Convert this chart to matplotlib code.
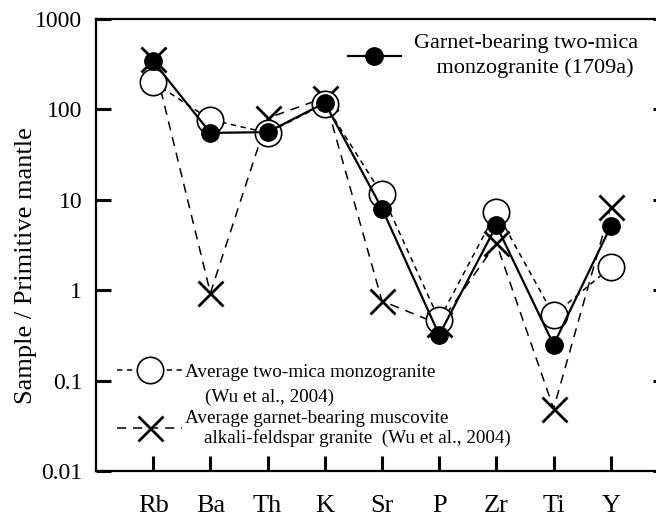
import matplotlib.pyplot as plt
from matplotlib.lines import Line2D

plt.rcParams['font.family'] = ['Liberation Serif', 'DejaVu Serif']

# -----------------------------
# data (normalised to primitive mantle)
# -----------------------------
elements = ["Rb", "Ba", "Th", "K", "Sr", "P", "Zr", "Ti", "Y"]
sample_1709a = [340, 55, 56, 118, 8.0, 0.32, 5.2, 0.25, 5.1]
avg_two_mica = [200, 77, 55, 115, 11.5, 0.47, 7.4, 0.53, 1.8]
avg_grt_musc = [360, 0.93, 80, 135, 0.76, 0.42, 3.3, 0.049, 8.4]

ytick_vals = [0.01, 0.1, 1, 10, 100, 1000]
ytick_labels = ["0.01", "0.1", "1", "10", "100", "1000"]

x = list(range(len(elements)))

fig = plt.figure(figsize=(6.56, 5.16), dpi=100)
# right spine sits just outside the picture, as in the scanned figure
ax = fig.add_axes([96 / 656, 45 / 516, 572 / 656, 452 / 516])

ax.plot(x, avg_grt_musc, color="black", lw=1.1, dashes=(6, 4.5),
        marker="x", ms=18, mew=2.0, zorder=2)
ax.plot(x, avg_two_mica, color="black", lw=1.1, dashes=(3.5, 3),
        marker="o", ms=19, mfc="white", mec="black", mew=1.2, zorder=3)
ax.plot(x, sample_1709a, color="black", lw=1.6, marker="o", ms=12.5,
        mfc="black", mec="black", zorder=4)

ax.set_yscale("log")
ax.set_ylim(0.01, 1000)
ax.set_xlim(-1, 9)
ax.set_yticks(ytick_vals)
ax.set_yticklabels(ytick_labels)
ax.minorticks_off()
ax.set_xticks(x)
ax.set_xticklabels(elements)

ax.tick_params(axis="y", direction="in", length=10.5, width=2.2, labelsize=17,
               pad=10, right=True)
ax.tick_params(axis="x", direction="in", length=10.5, width=2.2, labelsize=19,
               pad=17)
for s in ax.spines.values():
    s.set_linewidth(1.6)

ax.set_ylabel("Sample / Primitive mantle", fontsize=19)
ax.yaxis.set_label_coords(-0.103, 0.4535)

# legends
h1 = Line2D([], [], color="black", lw=1.6, marker="o", ms=12.5, mfc="black")
leg1 = ax.legend([h1], ["Garnet-bearing two-mica\n    monzogranite (1709a)"],
                 loc="upper left", bbox_to_anchor=(0.44, 0.966),
                 frameon=False, fontsize=16, handlelength=2.4,
                 handletextpad=0.6, borderpad=0, borderaxespad=0,
                 labelspacing=0)
leg1.get_texts()[0].set_linespacing(1.35)
ax.add_artist(leg1)

h2 = Line2D([], [], color="black", lw=1.1, dashes=(3.5, 3), marker="o", ms=19,
            mfc="white", mec="black", mew=1.2)
h3 = Line2D([], [], color="black", lw=1.1, dashes=(6, 4.5), marker="x", ms=18,
            mew=2.0)
ax.legend([h2, h3],
          ["Average two-mica monzogranite",
           "Average garnet-bearing muscovite\n    alkali-feldspar granite  (Wu et al., 2004)"],
          loc="lower left", bbox_to_anchor=(0.037, 0.052),
          frameon=False, fontsize=13.8, handlelength=3.4,
          handletextpad=0.12, borderpad=0, borderaxespad=0, labelspacing=1.5)
ax.text(0.1906, 0.164, "(Wu et al., 2004)", transform=ax.transAxes,
        fontsize=13.8, va="center", ha="left")

fig.savefig("out.png", dpi=100)
